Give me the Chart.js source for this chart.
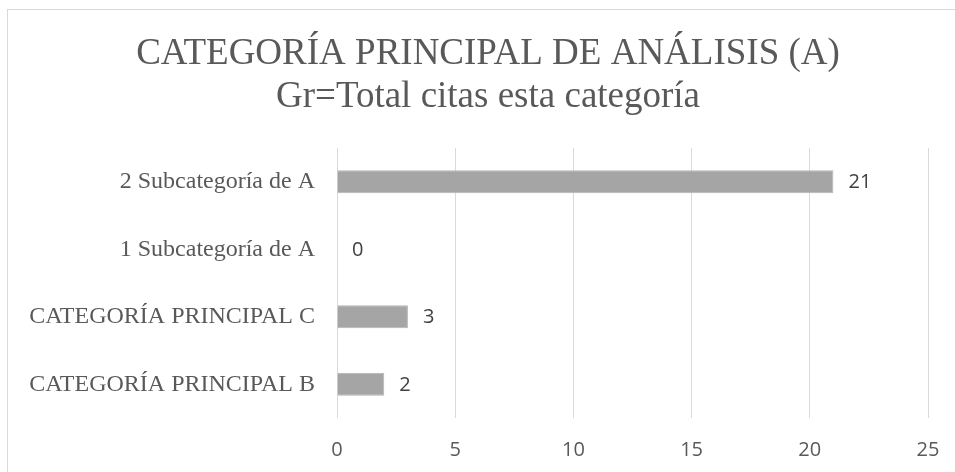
<!DOCTYPE html>
<html>
<head>
<meta charset="utf-8">
<script src="https://cdn.jsdelivr.net/npm/chart.js@4"></script>
<style>
  html, body { margin: 0; padding: 0; background: #fff; overflow: hidden; }
  #frame { position: absolute; left: 7px; top: 9px; width: 1000px; height: 520px; border: 1px solid #d9d9d9; }
  #wrap { position: absolute; left: 0; top: 0; width: 955px; height: 472px; }
</style>
</head>
<body>
<div id="frame"></div>
<div id="wrap"><canvas id="myChart" width="955" height="472"></canvas></div>
<script>
// chart data
const categories = ['2 Subcategoría de A', '1 Subcategoría de A', 'CATEGORÍA PRINCIPAL C', 'CATEGORÍA PRINCIPAL B'];
const citas = [21, 0, 3, 2];
const titleText = 'CATEGORÍA PRINCIPAL DE ANÁLISIS (A)';
const subtitleText = 'Gr=Total citas esta categoría';
const xTicks = [0, 5, 10, 15, 20, 25];

const textColor = '#595959';
const serif = '"Liberation Serif", "Times New Roman", serif';

// write value next to each bar
const valueLabels = {
    id: 'valueLabels',
    afterDatasetsDraw(chart) {
        const ctx = chart.ctx;
        const meta = chart.getDatasetMeta(0);
        ctx.save();
        ctx.font = '20px "Open Sans", sans-serif';
        ctx.fillStyle = '#404040';
        ctx.textAlign = 'left';
        ctx.textBaseline = 'middle';
        meta.data.forEach((bar, i) => {
            ctx.fillText(String(citas[i]), bar.x + 15, bar.y + 1);
        });
        ctx.restore();
    }
};

// the original frame is wider than the window, so its title sits a bit right of centre
const titleShift = {
    id: 'titleShift',
    afterLayout(chart) {
        chart.boxes.forEach(b => {
            if (b.options && b.options.text !== undefined) {
                b.left += 24;
                b.right += 24;
            }
        });
    }
};

const ctx = document.getElementById('myChart').getContext('2d');

const config = {
    type: 'bar',
    data: {
        labels: categories,
        datasets: [{
            data: citas,
            backgroundColor: '#a5a5a5',
            borderColor: '#b4b4b4',
            borderWidth: 1,
            barPercentage: 0.68,
            categoryPercentage: 0.5
        }]
    },
    options: {
        indexAxis: 'y',
        responsive: false,
        animation: false,
        layout: { padding: { left: 0, right: 27, top: 0, bottom: 0 } },
        plugins: {
            legend: { display: false },
            tooltip: { enabled: false },
            title: {
                display: true,
                text: titleText,
                color: textColor,
                font: { family: serif, size: 37, weight: 'normal', lineHeight: 46 / 37 },
                padding: { top: 31, bottom: 0 }
            },
            subtitle: {
                display: true,
                text: subtitleText,
                color: textColor,
                font: { family: serif, size: 37, weight: 'normal', lineHeight: 40 / 37 },
                padding: { top: 0, bottom: 31 }
            }
        },
        scales: {
            x: {
                min: 0,
                max: 25,
                afterBuildTicks: s => { s.ticks = xTicks.map(v => ({ value: v })); },
                afterFit: s => { s.height = 54; },
                grid: { color: '#d9d9d9', lineWidth: 1, drawTicks: true, tickLength: 18, tickColor: 'rgba(0,0,0,0)' },
                border: { display: false },
                ticks: {
                    color: textColor,
                    padding: 2,
                    font: { family: '"Open Sans", sans-serif', size: 20 }
                }
            },
            y: {
                afterFit: s => { s.width = 337; },
                grid: { display: false, drawTicks: false },
                border: { display: false },
                ticks: {
                    color: textColor,
                    padding: 22,
                    font: { family: serif, size: 24 }
                }
            }
        }
    },
    plugins: [valueLabels, titleShift]
};

const myBarChart = new Chart(ctx, config);
</script>
</body>
</html>
